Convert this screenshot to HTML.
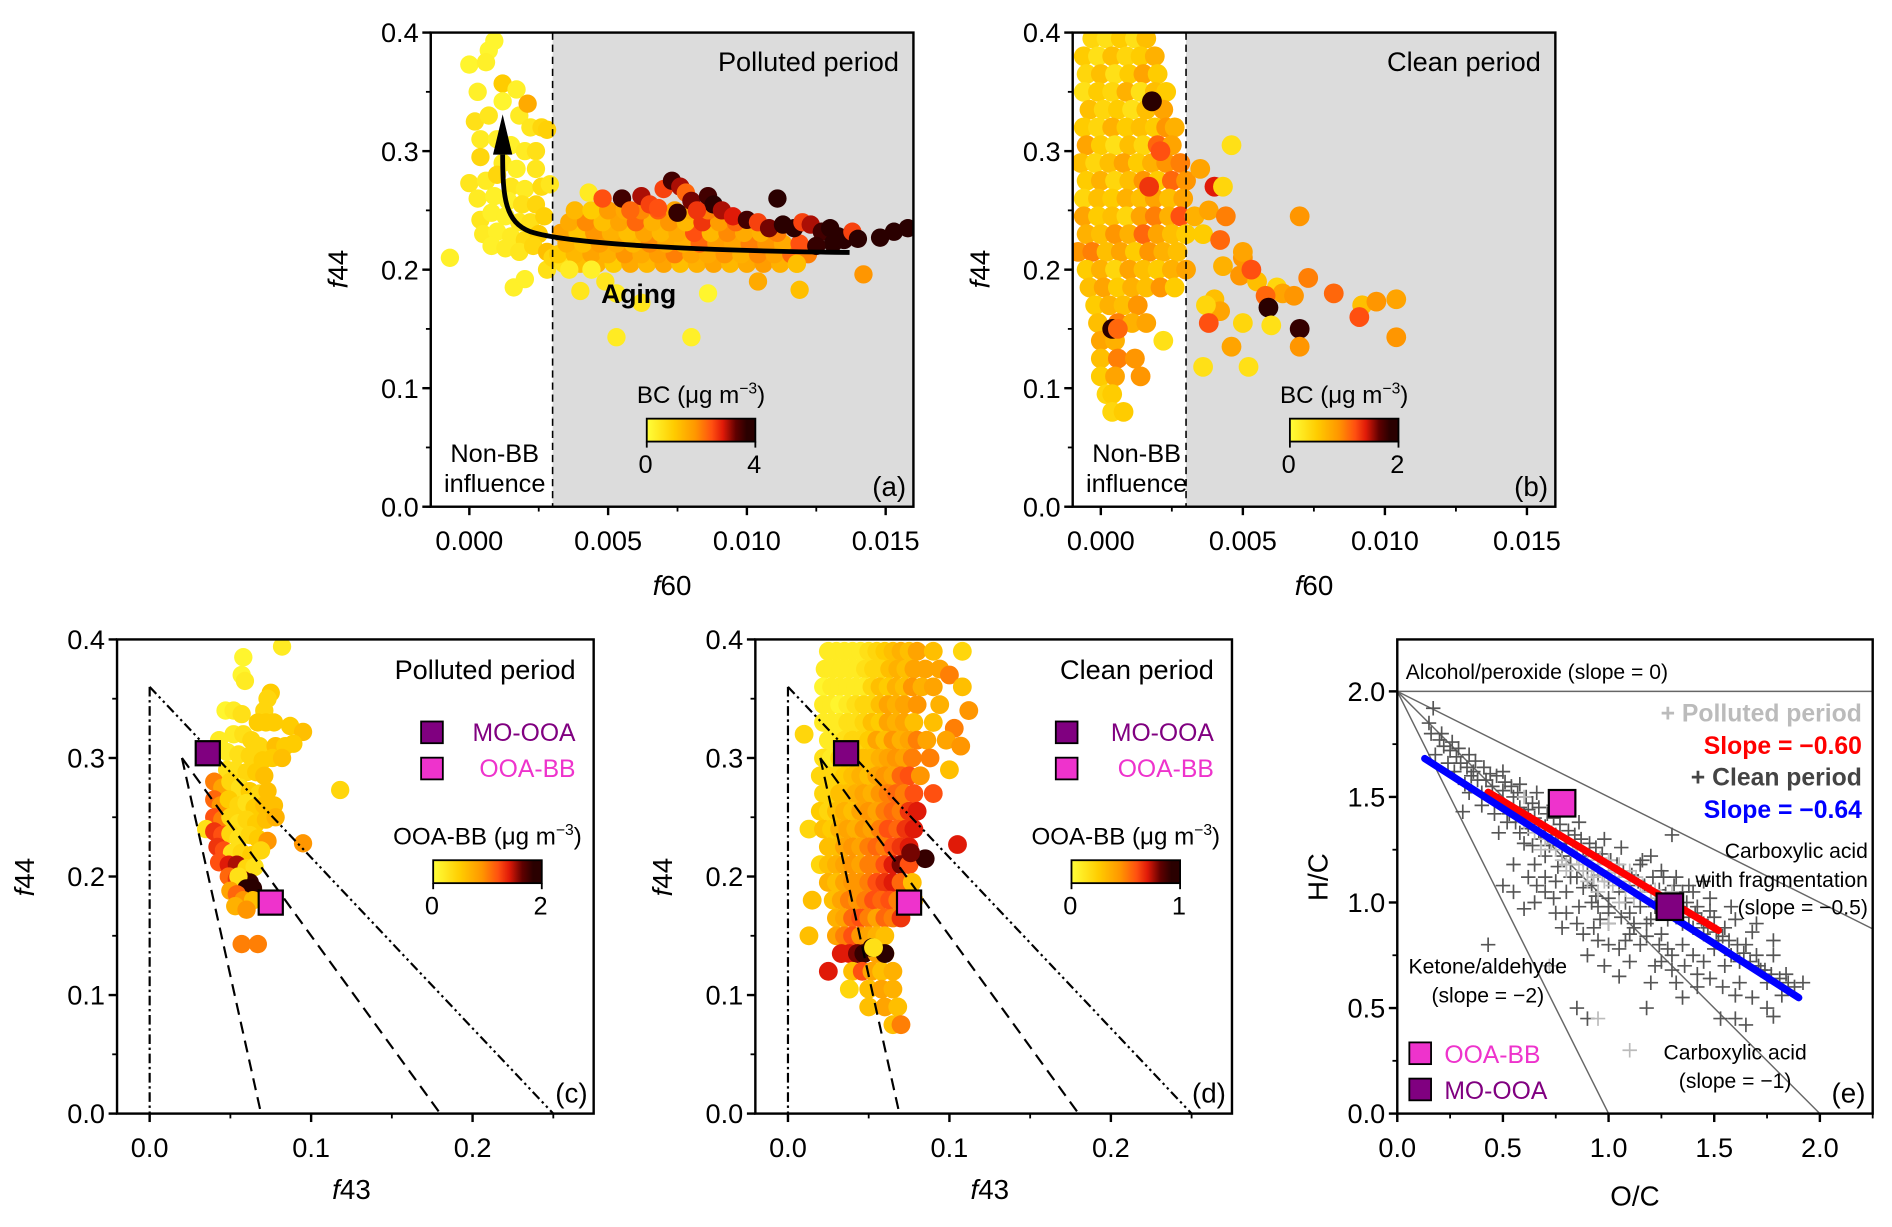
<!DOCTYPE html>
<html><head><meta charset="utf-8">
<style>
html,body{margin:0;padding:0;background:#fff;}
svg{display:block;font-family:"Liberation Sans",Arial,sans-serif;}
</style></head>
<body>
<svg id="fig" xmlns="http://www.w3.org/2000/svg" width="1892" height="1227" viewBox="0 0 1568 1017" preserveAspectRatio="none">
<defs>
<linearGradient id="cmap" x1="0" x2="1" y1="0" y2="0">
<stop offset="0" stop-color="#ffff3a"/><stop offset="0.25" stop-color="#ffcc00"/><stop offset="0.45" stop-color="#ff9600"/><stop offset="0.6" stop-color="#ff5010"/><stop offset="0.7" stop-color="#e01a08"/><stop offset="0.82" stop-color="#600000"/><stop offset="0.92" stop-color="#2a0000"/><stop offset="1" stop-color="#2a0000"/>
</linearGradient>
</defs>
</svg>
<script>
// ---------- DATA ----------
// Panel (a): [f60, f44, BC]
const aPoints = [
[-0.0007,0.21,0.3],[0.0000,0.373,0.2],[0.0003,0.35,0.3],[0.0007,0.385,0.2],[0.0009,0.393,0.2],[0.0006,0.375,0.3],[0.0012,0.357,1.0],[0.0017,0.352,0.3],[0.0012,0.342,0.2],[0.0002,0.325,0.6],[0.0007,0.33,0.5],[0.0018,0.33,0.4],[0.0021,0.34,1.5],[0.0022,0.32,0.5],[0.0026,0.32,0.8],[0.0028,0.318,0.9],[0.0004,0.31,0.4],[0.0010,0.31,0.3],[0.0015,0.305,0.3],[0.0020,0.30,0.4],[0.0024,0.30,0.6],[0.0004,0.295,0.8],[0.0012,0.29,0.4],[0.0017,0.285,0.3],[0.0024,0.285,0.5],[0.0000,0.273,0.5],[0.0006,0.275,0.4],[0.0010,0.28,0.8],[0.0015,0.27,0.5],[0.0020,0.268,0.4],[0.0026,0.27,0.7],[0.0029,0.272,0.5],[0.0003,0.26,0.4],[0.0009,0.262,0.3],[0.0014,0.258,0.3],[0.0019,0.255,0.6],[0.0024,0.255,0.8],[0.0004,0.242,0.5],[0.0008,0.248,0.3],[0.0013,0.245,0.3],[0.0018,0.24,0.5],[0.0022,0.24,0.6],[0.0027,0.245,0.9],[0.0005,0.23,0.4],[0.0010,0.232,0.3],[0.0015,0.228,0.4],[0.0020,0.225,0.7],[0.0025,0.23,1.0],[0.0008,0.22,0.3],[0.0013,0.218,0.4],[0.0018,0.215,0.5],[0.0023,0.22,0.8],[0.0028,0.215,1.2],[0.0016,0.185,0.3],[0.0020,0.192,0.3],[0.0028,0.20,0.6],[0.0030,0.21,0.8],
[0.0034,0.205,0.6],[0.0040,0.205,1.2],[0.0046,0.205,1.4],[0.0052,0.205,1.0],[0.0058,0.205,1.5],[0.0064,0.205,1.3],[0.0070,0.205,1.6],[0.0076,0.205,1.2],[0.0082,0.205,1.4],[0.0088,0.205,1.6],[0.0094,0.205,1.3],[0.0100,0.205,1.5],[0.0106,0.205,1.7],[0.0112,0.205,1.4],[0.0118,0.205,1.0],
[0.0032,0.213,1.0],[0.0038,0.213,1.3],[0.0044,0.213,1.6],[0.0050,0.213,1.4],[0.0056,0.213,1.8],[0.0062,0.213,1.5],[0.0068,0.213,1.7],[0.0074,0.213,2.0],[0.0080,0.213,1.6],[0.0086,0.213,1.5],[0.0092,0.213,1.8],[0.0098,0.213,1.4],[0.0104,0.213,1.9],[0.0110,0.213,1.6],[0.0116,0.213,2.2],[0.0122,0.213,2.0],
[0.0035,0.222,1.4],[0.0041,0.222,1.2],[0.0047,0.222,1.7],[0.0053,0.222,1.5],[0.0059,0.222,1.3],[0.0065,0.222,1.9],[0.0071,0.222,1.5],[0.0077,0.222,1.4],[0.0083,0.222,2.2],[0.0089,0.222,1.7],[0.0095,0.222,1.6],[0.0101,0.222,2.0],[0.0107,0.222,1.8],[0.0113,0.222,1.5],[0.0119,0.222,2.4],
[0.0033,0.231,1.6],[0.0039,0.231,1.1],[0.0045,0.231,1.8],[0.0051,0.231,1.4],[0.0057,0.231,1.2],[0.0063,0.231,1.6],[0.0069,0.231,1.3],[0.0075,0.231,1.5],[0.0081,0.231,2.4],[0.0087,0.231,1.3],[0.0093,0.231,1.9],[0.0099,0.231,1.5],[0.0105,0.231,1.4],[0.0111,0.231,2.0],
[0.0036,0.240,1.5],[0.0042,0.240,1.9],[0.0048,0.240,1.2],[0.0054,0.240,1.6],[0.0060,0.240,2.2],[0.0066,0.240,1.4],[0.0072,0.240,1.8],[0.0078,0.240,1.3],[0.0084,0.240,2.6],[0.0090,0.240,1.7],[0.0096,0.240,2.2],
[0.0038,0.250,1.3],[0.0044,0.250,1.0],[0.0050,0.250,1.7],[0.0056,0.250,1.5],[0.0062,0.250,1.9],[0.0068,0.250,2.3],[0.0074,0.250,1.6],[0.0080,0.250,1.5],[0.0086,0.250,2.0],
[0.0055,0.26,3.5],[0.0062,0.262,3.0],[0.0065,0.255,2.5],[0.0070,0.268,2.5],[0.0073,0.275,3.5],[0.0076,0.27,3.0],[0.0078,0.265,2.2],[0.0080,0.258,3.2],[0.0086,0.262,3.5],[0.0088,0.255,3.8],[0.0091,0.25,3.0],[0.0082,0.25,2.6],[0.0075,0.248,3.6],[0.0068,0.252,2.4],[0.0095,0.245,2.8],[0.0100,0.242,3.5],[0.0104,0.24,2.5],[0.0111,0.26,3.8],[0.0108,0.235,3.2],[0.0043,0.265,0.4],[0.0048,0.26,2.4],[0.0058,0.25,2.2],
[0.0113,0.238,3.8],[0.0117,0.235,3.9],[0.0120,0.24,2.5],[0.0123,0.238,3.0],[0.0127,0.232,3.5],[0.0130,0.235,4.0],[0.0133,0.228,3.8],[0.0135,0.225,4.0],[0.0138,0.232,2.5],[0.0140,0.226,3.9],[0.0148,0.227,4.0],[0.0153,0.232,4.0],[0.0158,0.235,4.0],[0.0131,0.222,4.0],[0.0125,0.22,3.6],[0.0142,0.196,1.8],[0.0119,0.183,1.2],[0.0104,0.19,1.5],[0.0118,0.205,1.2],
[0.0040,0.182,0.5],[0.0049,0.19,0.5],[0.0053,0.18,0.4],[0.0062,0.172,0.5],[0.0086,0.18,0.2],[0.0053,0.143,0.4],[0.0080,0.143,0.3],[0.0044,0.2,0.3],[0.0036,0.2,0.4]
];
// Panel (b): [f60, f44, BC]
const bPoints = [
[-0.0003,0.395,0.4],[0.0002,0.395,0.3],[0.0007,0.395,0.5],[0.0012,0.395,0.3],[0.0016,0.395,0.6],
[-0.0006,0.38,0.5],[-0.0001,0.38,0.3],[0.0004,0.38,0.6],[0.0009,0.38,0.4],[0.0014,0.38,0.5],[0.0019,0.38,0.7],
[-0.0005,0.365,0.4],[0.0000,0.365,0.6],[0.0005,0.365,0.3],[0.0010,0.365,0.5],[0.0015,0.365,0.8],[0.0020,0.365,0.5],
[-0.0006,0.35,0.3],[-0.0001,0.35,0.5],[0.0004,0.35,0.4],[0.0009,0.35,0.7],[0.0014,0.35,0.3],[0.0019,0.35,0.6],[0.0023,0.35,0.5],
[-0.0004,0.335,0.6],[0.0001,0.335,0.4],[0.0006,0.335,0.5],[0.0011,0.335,0.3],[0.0016,0.335,0.6],[0.0022,0.335,0.8],
[-0.0006,0.32,0.5],[-0.0001,0.32,0.4],[0.0004,0.32,0.7],[0.0009,0.32,0.5],[0.0014,0.32,0.6],[0.0019,0.32,0.5],[0.0023,0.32,0.9],[0.0026,0.32,0.7],
[-0.0005,0.305,0.8],[0.0000,0.305,0.5],[0.0005,0.305,0.3],[0.0010,0.305,0.6],[0.0015,0.305,0.4],[0.0020,0.305,1.1],[0.0025,0.305,0.8],
[-0.0007,0.29,0.6],[-0.0002,0.29,0.4],[0.0003,0.29,0.6],[0.0008,0.29,0.8],[0.0013,0.29,0.5],[0.0018,0.29,0.7],[0.0023,0.29,0.9],[0.0028,0.29,1.0],
[-0.0005,0.275,0.5],[0.0000,0.275,0.7],[0.0005,0.275,0.4],[0.0010,0.275,0.6],[0.0015,0.275,0.9],[0.0020,0.275,0.5],[0.0025,0.275,1.1],[0.0030,0.275,0.9],
[-0.0006,0.26,0.4],[-0.0001,0.26,0.6],[0.0004,0.26,0.5],[0.0009,0.26,0.7],[0.0014,0.26,0.6],[0.0019,0.26,0.8],[0.0024,0.26,0.6],[0.0029,0.26,0.8],
[-0.0006,0.245,0.8],[-0.0001,0.245,0.5],[0.0004,0.245,0.6],[0.0009,0.245,0.4],[0.0014,0.245,0.8],[0.0019,0.245,1.0],[0.0024,0.245,0.7],[0.0028,0.245,1.2],[0.0033,0.245,0.7],
[-0.0005,0.23,0.7],[0.0000,0.23,0.6],[0.0005,0.23,0.9],[0.0010,0.23,0.7],[0.0015,0.23,1.1],[0.0020,0.23,0.8],[0.0025,0.23,0.6],[0.0030,0.23,0.5],
[-0.0008,0.215,0.9],[-0.0003,0.215,1.0],[0.0002,0.215,0.6],[0.0007,0.215,0.8],[0.0012,0.215,0.5],[0.0017,0.215,0.9],[0.0022,0.215,0.7],[0.0027,0.215,0.6],
[-0.0005,0.20,0.5],[0.0000,0.20,0.7],[0.0005,0.20,0.4],[0.0010,0.20,0.8],[0.0015,0.20,0.6],[0.0020,0.20,0.5],[0.0025,0.20,0.7],[0.0030,0.20,0.8],
[-0.0004,0.185,0.6],[0.0001,0.185,0.8],[0.0006,0.185,0.5],[0.0011,0.185,0.7],[0.0016,0.185,0.6],[0.0021,0.185,0.9],[0.0026,0.185,0.5],
[-0.0002,0.17,0.5],[0.0003,0.17,0.7],[0.0008,0.17,0.6],[0.0013,0.17,0.9],
[-0.0001,0.155,0.6],[0.0006,0.155,1.0],[0.0011,0.155,0.7],[0.0016,0.155,0.8],
[0.0000,0.14,0.8],[0.0005,0.14,0.7],[0.0022,0.14,0.3],
[0.0000,0.125,0.6],[0.0006,0.125,1.0],[0.0012,0.125,0.9],
[0.0000,0.11,0.5],[0.0005,0.11,0.8],[0.0014,0.11,0.9],
[0.0002,0.095,0.4],[0.0004,0.095,0.5],[0.0004,0.08,0.4],[0.0008,0.08,0.5],
[0.0018,0.342,2.0],[0.0004,0.15,2.0],[0.0006,0.15,1.1],[0.0021,0.3,1.2],[0.0017,0.27,1.3],
[0.0035,0.285,0.8],[0.0046,0.305,0.3],[0.0040,0.27,1.4],[0.0043,0.27,0.4],[0.0038,0.25,0.8],[0.0044,0.245,1.0],[0.0036,0.23,0.5],[0.0042,0.225,1.1],[0.0050,0.21,0.9],[0.0050,0.215,0.8],[0.0043,0.203,0.7],[0.0049,0.195,0.9],[0.0055,0.19,0.6],[0.0053,0.2,1.2],[0.0062,0.185,0.4],[0.0064,0.18,0.8],[0.0058,0.178,1.1],[0.0068,0.178,0.9],[0.0073,0.193,1.0],[0.0082,0.18,1.1],[0.0070,0.245,0.9],[0.0040,0.175,0.6],[0.0042,0.165,0.8],[0.0037,0.17,0.4],[0.0059,0.168,2.0],[0.0070,0.15,1.8],[0.0070,0.135,0.9],[0.0038,0.155,1.2],[0.0046,0.135,0.8],[0.0050,0.155,0.4],[0.0060,0.153,0.3],[0.0036,0.118,0.3],[0.0052,0.118,0.3],[0.0092,0.17,0.6],[0.0091,0.16,1.2],[0.0097,0.173,0.9],[0.0104,0.175,0.8],[0.0104,0.143,0.9]
];
// Panel (c): [f43, f44, OOA-BB]
const cPoints = [
[0.082,0.394,0.2],[0.058,0.385,0.1],[0.057,0.37,0.1],[0.059,0.365,0.2],[0.075,0.355,0.5],[0.073,0.35,0.4],[0.071,0.34,0.4],[0.047,0.34,0.1],[0.052,0.34,0.2],[0.057,0.337,0.3],[0.067,0.33,0.5],[0.072,0.33,0.5],[0.077,0.33,0.5],[0.087,0.327,0.5],[0.095,0.322,0.6],[0.052,0.32,0.2],[0.058,0.32,0.3],[0.063,0.315,0.4],[0.068,0.31,0.4],[0.078,0.31,0.6],[0.084,0.31,0.5],[0.089,0.312,0.5],[0.043,0.315,0.2],[0.048,0.305,0.2],[0.055,0.303,0.3],[0.062,0.302,0.4],[0.070,0.298,0.5],[0.076,0.30,0.5],[0.082,0.30,0.6],[0.048,0.29,0.3],[0.053,0.29,0.3],[0.060,0.288,0.4],[0.066,0.288,0.5],[0.071,0.285,0.6],[0.118,0.273,0.4],[0.040,0.28,1.0],[0.045,0.275,0.8],[0.050,0.28,0.4],[0.056,0.275,0.3],[0.062,0.272,0.5],[0.068,0.27,0.4],[0.073,0.272,0.6],[0.040,0.265,1.1],[0.044,0.26,0.9],[0.049,0.265,0.5],[0.055,0.26,0.4],[0.060,0.262,0.3],[0.065,0.258,0.5],[0.071,0.26,0.6],[0.077,0.26,0.6],[0.040,0.25,1.2],[0.045,0.248,1.0],[0.050,0.25,0.4],[0.055,0.245,0.3],[0.060,0.248,0.4],[0.066,0.245,0.5],[0.072,0.248,0.6],[0.078,0.25,0.7],[0.035,0.24,0.3],[0.040,0.238,1.3],[0.045,0.235,1.2],[0.050,0.236,0.4],[0.055,0.232,0.3],[0.062,0.235,0.4],[0.067,0.232,0.5],[0.073,0.23,0.9],[0.095,0.228,0.9],[0.042,0.225,1.3],[0.046,0.222,1.2],[0.051,0.22,0.3],[0.057,0.22,0.4],[0.063,0.218,0.5],[0.069,0.222,0.4],[0.043,0.212,1.2],[0.049,0.21,1.4],[0.054,0.21,1.5],[0.060,0.207,0.4],[0.065,0.208,0.3],[0.049,0.20,1.1],[0.054,0.198,1.3],[0.058,0.197,1.6],[0.062,0.195,1.8],[0.055,0.20,0.3],[0.060,0.19,2.0],[0.064,0.19,1.9],[0.050,0.188,0.8],[0.054,0.185,1.1],[0.058,0.18,0.9],[0.064,0.18,0.6],[0.053,0.175,0.7],[0.060,0.172,0.9],[0.057,0.143,1.0],[0.067,0.143,1.0]
];
// Panel (d): [f43, f44, OOA-BB]
const dPoints = [
[0.025,0.39,0.1],[0.03,0.39,0.1],[0.035,0.39,0.1],[0.04,0.39,0.1],[0.045,0.39,0.1],[0.05,0.39,0.15],[0.055,0.39,0.2],[0.06,0.39,0.25],[0.065,0.39,0.3],[0.07,0.39,0.35],[0.075,0.39,0.3],[0.08,0.39,0.4],[0.09,0.39,0.3],[0.108,0.39,0.2],
[0.023,0.375,0.1],[0.028,0.375,0.1],[0.033,0.375,0.1],[0.038,0.375,0.1],[0.043,0.375,0.1],[0.048,0.375,0.15],[0.053,0.375,0.2],[0.058,0.375,0.2],[0.063,0.375,0.3],[0.068,0.375,0.35],[0.073,0.375,0.3],[0.078,0.375,0.4],[0.085,0.375,0.4],[0.094,0.375,0.4],[0.1,0.37,0.5],
[0.022,0.36,0.05],[0.027,0.36,0.1],[0.032,0.36,0.1],[0.037,0.36,0.1],[0.042,0.36,0.1],[0.047,0.36,0.1],[0.052,0.36,0.2],[0.057,0.36,0.3],[0.062,0.36,0.25],[0.067,0.36,0.35],[0.072,0.36,0.3],[0.077,0.36,0.45],[0.083,0.36,0.35],[0.09,0.36,0.4],[0.108,0.36,0.3],
[0.022,0.345,0.1],[0.027,0.345,0.1],[0.032,0.345,0.05],[0.037,0.345,0.1],[0.042,0.345,0.15],[0.047,0.345,0.2],[0.052,0.345,0.2],[0.057,0.345,0.3],[0.062,0.345,0.4],[0.067,0.345,0.35],[0.072,0.345,0.4],[0.08,0.345,0.45],[0.094,0.345,0.35],[0.112,0.34,0.45],
[0.022,0.33,0.1],[0.027,0.33,0.1],[0.032,0.33,0.1],[0.037,0.33,0.15],[0.042,0.33,0.15],[0.047,0.33,0.2],[0.052,0.33,0.3],[0.057,0.33,0.25],[0.062,0.33,0.4],[0.067,0.33,0.35],[0.072,0.33,0.4],[0.078,0.33,0.3],[0.09,0.33,0.3],[0.103,0.325,0.5],
[0.010,0.32,0.2],[0.025,0.315,0.1],[0.03,0.315,0.1],[0.035,0.315,0.15],[0.04,0.315,0.2],[0.045,0.315,0.2],[0.05,0.315,0.25],[0.055,0.315,0.4],[0.06,0.315,0.3],[0.065,0.315,0.45],[0.07,0.315,0.35],[0.075,0.315,0.4],[0.08,0.315,0.5],[0.086,0.315,0.4],[0.098,0.315,0.4],[0.107,0.31,0.45],
[0.022,0.30,0.15],[0.027,0.30,0.1],[0.032,0.30,0.2],[0.037,0.30,0.2],[0.042,0.30,0.25],[0.047,0.30,0.3],[0.052,0.30,0.3],[0.057,0.30,0.35],[0.062,0.30,0.4],[0.067,0.30,0.45],[0.072,0.30,0.4],[0.077,0.30,0.5],[0.088,0.30,0.5],
[0.02,0.285,0.2],[0.025,0.285,0.2],[0.03,0.285,0.2],[0.035,0.285,0.25],[0.04,0.285,0.3],[0.045,0.285,0.35],[0.05,0.285,0.3],[0.055,0.285,0.4],[0.06,0.285,0.45],[0.065,0.285,0.4],[0.07,0.285,0.55],[0.075,0.285,0.6],[0.082,0.285,0.45],[0.1,0.29,0.3],
[0.022,0.27,0.2],[0.027,0.27,0.2],[0.032,0.27,0.3],[0.037,0.27,0.3],[0.042,0.27,0.35],[0.047,0.27,0.4],[0.052,0.27,0.35],[0.057,0.27,0.45],[0.062,0.27,0.5],[0.067,0.27,0.55],[0.072,0.27,0.5],[0.078,0.27,0.6],[0.09,0.27,0.6],
[0.02,0.255,0.25],[0.025,0.255,0.2],[0.03,0.255,0.3],[0.035,0.255,0.35],[0.04,0.255,0.3],[0.045,0.255,0.4],[0.05,0.255,0.45],[0.055,0.255,0.4],[0.06,0.255,0.5],[0.065,0.255,0.55],[0.07,0.255,0.5],[0.075,0.255,0.65],[0.08,0.255,0.7],
[0.013,0.24,0.2],[0.022,0.24,0.3],[0.027,0.24,0.25],[0.032,0.24,0.35],[0.037,0.24,0.4],[0.042,0.24,0.35],[0.047,0.24,0.45],[0.052,0.24,0.4],[0.057,0.24,0.5],[0.062,0.24,0.6],[0.068,0.24,0.55],[0.073,0.24,0.65],[0.078,0.24,0.7],
[0.025,0.225,0.3],[0.03,0.225,0.3],[0.035,0.225,0.4],[0.04,0.225,0.45],[0.045,0.225,0.4],[0.05,0.225,0.5],[0.055,0.225,0.55],[0.06,0.225,0.5],[0.065,0.225,0.6],[0.07,0.225,0.65],[0.075,0.225,0.7],[0.105,0.227,0.7],
[0.02,0.21,0.2],[0.025,0.21,0.3],[0.03,0.21,0.35],[0.035,0.21,0.4],[0.04,0.21,0.45],[0.045,0.21,0.4],[0.05,0.21,0.5],[0.055,0.21,0.5],[0.06,0.21,0.6],[0.065,0.21,0.7],[0.07,0.21,0.8],[0.075,0.21,0.6],
[0.025,0.195,0.35],[0.03,0.195,0.3],[0.035,0.195,0.4],[0.04,0.195,0.45],[0.045,0.195,0.45],[0.05,0.195,0.5],[0.055,0.195,0.6],[0.06,0.195,0.65],[0.065,0.195,0.7],[0.07,0.195,0.55],[0.077,0.195,0.3],
[0.015,0.18,0.3],[0.028,0.18,0.3],[0.033,0.18,0.4],[0.038,0.18,0.5],[0.043,0.18,0.45],[0.048,0.18,0.5],[0.053,0.18,0.6],[0.058,0.18,0.55],[0.063,0.18,0.6],[0.068,0.18,0.5],[0.078,0.18,0.3],
[0.03,0.165,0.35],[0.035,0.165,0.4],[0.04,0.165,0.55],[0.045,0.165,0.6],[0.05,0.165,0.5],[0.055,0.165,0.4],[0.06,0.165,0.55],[0.065,0.165,0.5],[0.07,0.165,0.65],
[0.013,0.15,0.3],[0.03,0.15,0.4],[0.035,0.15,0.5],[0.04,0.15,0.6],[0.045,0.15,0.45],[0.05,0.15,0.4],[0.055,0.15,0.35],[0.06,0.15,0.3],
[0.033,0.135,0.7],[0.038,0.135,0.7],[0.043,0.135,0.8],[0.047,0.135,0.9],[0.055,0.135,0.4],[0.06,0.135,0.3],
[0.025,0.12,0.7],[0.04,0.12,0.3],[0.046,0.12,0.6],[0.052,0.12,0.4],[0.058,0.12,0.3],[0.065,0.12,0.35],
[0.038,0.105,0.2],[0.05,0.105,0.3],[0.058,0.105,0.4],[0.065,0.105,0.35],
[0.05,0.09,0.3],[0.06,0.09,0.4],[0.068,0.09,0.3],[0.065,0.075,0.3],[0.07,0.075,0.5],
[0.085,0.215,0.9],[0.076,0.22,0.8],[0.052,0.14,0.95],[0.06,0.135,1.0],[0.053,0.14,0.15]
];
// Factor profiles: [f43, f44] and [O/C, H/C]
const moOOA_ff = [0.036, 0.304];
const ooaBB_ff = [0.075, 0.178];
const moOOA_vk = [1.29, 0.98];
const ooaBB_vk = [0.78, 1.47];
// Panel (e): clean-period points [O/C, H/C]
const eClean = [
[0.17,1.92],[0.15,1.85],[0.16,1.8],[0.2,1.77],[0.22,1.74],[0.25,1.72],[0.18,1.7],[0.28,1.69],[0.3,1.66],[0.33,1.64],[0.27,1.62],[0.36,1.62],[0.38,1.58],[0.32,1.56],[0.42,1.58],[0.45,1.55],[0.4,1.52],[0.5,1.53],[0.48,1.48],[0.55,1.5],[0.31,1.43],[0.52,1.45],[0.58,1.45],[0.6,1.42],[0.56,1.38],[0.65,1.4],[0.62,1.35],[0.7,1.36],[0.48,1.33],[0.68,1.3],[0.75,1.32],[0.72,1.27],[0.8,1.28],[0.6,1.28],[0.78,1.22],[0.85,1.25],[0.55,1.18],[0.65,1.18],[0.82,1.18],[0.88,1.2],[0.9,1.15],[0.75,1.1],[0.85,1.12],[0.95,1.13],[0.7,1.05],[0.8,1.05],[0.92,1.08],[1.0,1.1],[0.65,1.0],[0.6,0.97],[0.92,1.0],[1.0,1.02],[1.05,1.05],[1.1,1.08],[1.15,1.18],[1.2,1.22],[1.3,1.32],[1.25,1.15],[1.32,1.12],[1.35,1.05],[1.3,1.0],[1.4,1.05],[1.42,0.98],[1.38,0.93],[1.48,0.96],[1.45,0.9],[1.5,0.93],[1.55,0.88],[1.6,0.92],[1.52,0.82],[1.65,0.8],[1.7,0.75],[1.78,0.75],[1.62,0.72],[1.72,0.68],[1.55,0.7],[1.85,0.62],[1.92,0.62],[1.75,0.62],[1.68,0.55],[1.75,0.5],[1.78,0.46],[1.6,0.45],[1.53,0.45],[1.65,0.42],[1.35,0.55],[1.2,0.62],[1.1,0.72],[1.05,0.65],[0.98,0.7],[0.9,0.75],[0.95,0.82],[1.0,0.9],[1.1,0.85],[1.05,0.78],[1.15,0.8],[1.2,0.92],[1.25,0.85],[1.28,0.78],[1.35,0.8],[1.4,0.75],[1.45,0.72],[1.3,0.68],[1.25,0.72],[1.1,0.95],[1.15,0.98],[0.88,0.85],[0.85,0.9],[0.78,0.88],[0.75,0.95],[0.55,1.05],[0.5,1.08],[0.43,0.8],[0.9,0.45],[0.85,0.5],[1.18,0.5],[1.45,0.85],[1.7,0.9],[1.0,0.95],[0.95,0.98],[1.2,1.05],[1.45,1.1],
[0.24,1.66],[0.35,1.6],[0.44,1.5],[0.53,1.42],[0.62,1.44],[0.67,1.34],[0.73,1.3],[0.82,1.22],[0.9,1.22],[1.08,1.0],[1.18,0.9],[1.22,0.98],[1.28,0.92],[1.35,0.9],[1.4,0.88],[1.5,0.78],[1.58,0.75],[1.62,0.62],[1.82,0.56],[1.12,0.88],[1.0,0.8],[0.93,0.88],[0.8,0.95],[0.7,1.12],[0.62,1.12],
[0.21,1.8],[0.26,1.76],[0.29,1.73],[0.34,1.7],[0.37,1.67],[0.41,1.64],[0.44,1.61],[0.47,1.6],[0.51,1.57],[0.54,1.55],[0.57,1.52],[0.61,1.5],[0.64,1.47],[0.67,1.45],[0.71,1.42],[0.74,1.4],[0.77,1.37],[0.81,1.34],[0.84,1.32],[0.87,1.3],[0.91,1.28],[0.94,1.26],[0.97,1.23],[1.01,1.2],[1.04,1.18],[1.07,1.15],[1.11,1.13],[1.14,1.1],[1.17,1.08],[1.21,1.12],[1.24,1.06],[1.27,1.04],[1.31,1.08],[1.34,0.98],[1.37,1.0],[1.41,0.95],[1.44,0.92],[1.47,0.88],[1.51,0.86],[1.54,0.84],[1.57,0.82],[1.61,0.8],[1.64,0.76],[1.67,0.72],[1.71,0.7],[1.74,0.68],[1.77,0.66],[1.81,0.64],[1.84,0.66],[1.88,0.6],
[0.34,1.52],[0.4,1.46],[0.46,1.42],[0.52,1.38],[0.58,1.33],[0.64,1.27],[0.7,1.22],[0.76,1.17],[0.82,1.12],[0.88,1.07],[0.94,1.03],[1.0,0.98],[1.06,0.93],[1.12,0.9],[1.18,0.84],[1.24,0.8],[1.3,0.75],[1.36,0.7],[1.42,0.66],[1.48,0.64],[1.54,0.6],[1.6,0.56],
[0.5,1.62],[0.58,1.56],[0.66,1.52],[0.74,1.46],[0.86,1.38],[0.98,1.3],[1.06,1.26],[1.16,1.2],[1.26,1.12],[1.38,1.08],[1.48,1.02],[1.58,0.98],[1.68,0.86],[1.78,0.82],[1.22,0.7],[1.32,0.62],[1.42,0.6],[1.08,0.82],[0.96,0.92],[0.86,0.98],[0.74,1.02],[0.66,1.08]
];
// Panel (e): polluted-period points [O/C, H/C]
const ePolluted = [
[0.9,1.2],[0.95,1.18],[1.0,1.15],[1.05,1.12],[1.1,1.1],[1.0,1.2],[0.85,1.22],[0.9,1.1],[0.8,1.15],[1.15,1.05],[1.2,1.02],[1.25,1.0],[1.1,1.15],[0.75,1.25],[0.7,1.3],[0.65,1.33],[0.6,1.38],[0.95,1.05],[1.05,1.18],[1.3,1.05],[0.68,1.25],[0.72,0.7],[1.1,0.3],[0.95,0.45],[1.0,0.9],[0.6,1.5],[0.8,1.18],[1.05,1.0],[0.92,1.15],[0.98,1.1],[0.88,1.15],[1.02,1.08],[1.12,1.02],[0.78,1.2],[0.97,1.13],
[0.86,1.18],[0.93,1.12],[1.03,1.14],[1.08,1.06],[1.16,1.08],[0.83,1.25],[0.73,1.28],[0.96,1.21],[1.13,1.12],[1.22,1.06]
];
// Fit lines [O/C start, O/C end, slope, intercept]
const fitPolluted = [0.43, 1.52, -0.60, 1.78];
const fitClean = [0.13, 1.90, -0.64, 1.765];

// Tick labels
const fTicksX = ["0.000","0.005","0.010","0.015"];
const fTickVals = [0, 0.005, 0.010, 0.015];
const f44Ticks = [0.0, 0.1, 0.2, 0.3, 0.4];
const f43Ticks = [0.0, 0.1, 0.2];
const vkTicks = [0.0, 0.5, 1.0, 1.5, 2.0];

// ---------- DRAWING ----------
const NS = "http://www.w3.org/2000/svg";
const svg = document.getElementById('fig');

function el(tag, attrs, parent, name, inter) {
  const e = document.createElementNS(NS, tag);
  for (const k in attrs) e.setAttribute(k, attrs[k]);
  
  
  (parent || svg).appendChild(e);
  return e;
}
function text(x, y, str, size, anchor, parent, name, extra) {
  const a = Object.assign({x: x, y: y, 'font-size': size, 'text-anchor': anchor || 'middle', fill: '#000'}, extra || {});
  const t = el('text', a, parent, name, false);
  t.textContent = str;
  return t;
}
const stops = [[0,[255,255,58]],[0.25,[255,204,0]],[0.45,[255,150,0]],[0.6,[255,80,16]],[0.7,[224,26,8]],[0.82,[96,0,0]],[0.92,[42,0,0]],[1,[42,0,0]]];
function cmap(t) {
  t = Math.max(0, Math.min(1, t));
  for (let i = 1; i < stops.length; i++) {
    if (t <= stops[i][0]) {
      const a = stops[i-1], b = stops[i], f = (t - a[0]) / (b[0] - a[0]);
      const c = a[1].map((v, j) => Math.round(v + (b[1][j] - v) * f));
      return 'rgb(' + c.join(',') + ')';
    }
  }
  return 'rgb(42,0,0)';
}
function scale(d0, d1, p0, p1) { return v => p0 + (v - d0) / (d1 - d0) * (p1 - p0); }

function frame(P, name) {
  el('rect', {x: P.px0, y: P.py0, width: P.px1 - P.px0, height: P.py1 - P.py0, fill: 'none', stroke: '#000', 'stroke-width': 2}, P.g, name + '-frame', false);
}
function xTicks(P, vals, labels, minorStep, name) {
  const g = el('g', {}, P.g, name + '-x-axis', false);
  for (let i = 0; i < vals.length; i++) {
    const x = P.sx(vals[i]);
    el('line', {x1: x, x2: x, y1: P.py1, y2: P.py1 + 7, stroke: '#000', 'stroke-width': 2}, g, 'x-tick', false);
    text(x, P.py1 + 36, labels[i], 22.5, 'middle', g, 'x-tick-label');
  }
  for (let v = P.x0 - (P.x0 % minorStep); v <= P.x1 + 1e-12; v += minorStep) {
    const x = P.sx(v);
    if (x < P.px0 - 0.5 || x > P.px1 + 0.5) continue;
    el('line', {x1: x, x2: x, y1: P.py1, y2: P.py1 + 4, stroke: '#000', 'stroke-width': 1.5}, g, 'x-minor-tick', false);
  }
}
function yTicks(P, vals, labels, minorStep, name) {
  const g = el('g', {}, P.g, name + '-y-axis', false);
  for (let i = 0; i < vals.length; i++) {
    const y = P.sy(vals[i]);
    el('line', {x1: P.px0 - 7, x2: P.px0, y1: y, y2: y, stroke: '#000', 'stroke-width': 2}, g, 'y-tick', false);
    text(P.px0 - 10, y + 8, labels[i], 22.5, 'end', g, 'y-tick-label');
  }
  for (let v = 0; v <= P.y1 + 1e-12; v += minorStep) {
    const y = P.sy(v);
    el('line', {x1: P.px0 - 4, x2: P.px0, y1: y, y2: y, stroke: '#000', 'stroke-width': 1.5}, g, 'y-minor-tick', false);
  }
}
function italicLabel(x, y, fpart, rest, rotate, parent, name) {
  const attrs = {x: x, y: y, 'font-size': 23, 'text-anchor': 'middle'};
  if (rotate) attrs.transform = 'rotate(-90 ' + x + ' ' + y + ')';
  const t = el('text', attrs, parent, name, false);
  const s1 = document.createElementNS(NS, 'tspan');
  s1.setAttribute('font-style', 'italic');
  s1.textContent = fpart;
  t.appendChild(s1);
  const s2 = document.createElementNS(NS, 'tspan');
  s2.textContent = rest;
  t.appendChild(s2);
}
function colorbar(P, bx, by, maxLabel, title, name) {
  const g = el('g', {}, P.g, name, false);
  const tt = el('text', {x: bx + 45, y: by - 13, 'font-size': 20, 'text-anchor': 'middle'}, g, 'colorbar-title', false);
  tt.appendChild(document.createTextNode(title + ' (μg m'));
  const sup = document.createElementNS(NS, 'tspan');
  sup.setAttribute('font-size', 13);
  sup.setAttribute('dy', -8);
  sup.textContent = '−3';
  tt.appendChild(sup);
  const cl = document.createElementNS(NS, 'tspan');
  cl.setAttribute('dy', 8);
  cl.textContent = ')';
  tt.appendChild(cl);
  el('rect', {x: bx, y: by, width: 90, height: 19, fill: 'url(#cmap)', stroke: '#000', 'stroke-width': 1.5}, g, 'colorbar-gradient', false);
  el('line', {x1: bx, x2: bx, y1: by + 19, y2: by + 24, stroke: '#000', 'stroke-width': 1.5}, g, 'colorbar-tick', false);
  el('line', {x1: bx + 90, x2: bx + 90, y1: by + 19, y2: by + 24, stroke: '#000', 'stroke-width': 1.5}, g, 'colorbar-tick', false);
  text(bx - 1, by + 45, '0', 21, 'middle', g, 'colorbar-min-label');
  text(bx + 89, by + 45, maxLabel, 21, 'middle', g, 'colorbar-max-label');
}
function scatter(P, pts, cmax, r, name) {
  const g = el('g', {}, P.g, name, false);
  for (const p of pts) {
    const x = P.sx(p[0]), y = P.sy(p[1]);
    if (y < P.py0 - 2) continue;
    el('circle', {cx: x, cy: y, r: r, fill: cmap(p[2] / cmax)}, g, 'data-point', false);
  }
}
function makePanel(o, name) {
  const P = Object.assign({}, o);
  P.sx = scale(o.x0, o.x1, o.px0, o.px1);
  P.sy = scale(o.y0, o.y1, o.py1, o.py0);
  P.g = el('g', {}, svg, name, false);
  const cid = 'clip-' + name;
  const cp = document.createElementNS(NS, 'clipPath');
  cp.setAttribute('id', cid);
  const cr = document.createElementNS(NS, 'rect');
  cr.setAttribute('x', o.px0); cr.setAttribute('y', o.py0);
  cr.setAttribute('width', o.px1 - o.px0); cr.setAttribute('height', o.py1 - o.py0);
  cp.appendChild(cr);
  svg.querySelector('defs').appendChild(cp);
  P.plot = el('g', {'clip-path': 'url(#' + cid + ')'}, P.g, name + '-plot-area', false);
  return P;
}

// ----- Panels (a) & (b) -----
function f60Panel(pts, px0, x0, cmax, r, title, letter, name) {
  const P = makePanel({x0: x0, x1: 0.0160, px0: px0, px1: px0 + 400, y0: 0, y1: 0.4, py0: 27, py1: 420}, name);
  const xd = P.sx(0.003);
  el('rect', {x: xd, y: P.py0, width: P.px1 - xd, height: P.py1 - P.py0, fill: '#dcdcdc'}, P.plot, 'bb-influence-region', false);
  scatter({g: P.plot, sx: P.sx, sy: P.sy, py0: P.py0}, pts, cmax, r, 'scatter-points');
  el('line', {x1: xd, x2: xd, y1: P.py0, y2: P.py1, stroke: '#000', 'stroke-width': 1.3, 'stroke-dasharray': '6,4'}, P.g, 'threshold-line', false);
  frame(P, name);
  xTicks(P, fTickVals, fTicksX, 0.0025, name);
  yTicks(P, f44Ticks, f44Ticks.map(v => v.toFixed(1)), 0.05, name);
  text(P.px1 - 12, P.py0 + 32, title, 22.5, 'end', P.g, 'period-title');
  text(P.px0 + 53, 383, 'Non-BB', 21, 'middle', P.g, 'non-bb-label');
  text(P.px0 + 53, 408, 'influence', 21, 'middle', P.g, 'non-bb-label');
  text(P.px1 - 6, 411, letter, 23, 'end', P.g, 'panel-letter');
  italicLabel((P.px0 + P.px1) / 2, 493, 'f', '60', false, P.g, 'x-axis-title');
  italicLabel(P.px0 - 69, 223, 'f', '44', true, P.g, 'y-axis-title');
  return P;
}
const PA = f60Panel(aPoints, 357, -0.00139, 4, 7.6, 'Polluted period', '(a)', 'panel-a');
colorbar(PA, 536, 347, '4', 'BC', 'colorbar-a');
(function(){
  const P = PA;
  const d = 'M' + P.sx(0.0137) + ',' + P.sy(0.2145) +
    ' C' + P.sx(0.008) + ',' + P.sy(0.216) + ' ' + P.sx(0.0035) + ',' + P.sy(0.222) + ' ' + P.sx(0.0022) + ',' + P.sy(0.232) +
    ' C' + P.sx(0.0013) + ',' + P.sy(0.24) + ' ' + P.sx(0.0012) + ',' + P.sy(0.26) + ' ' + P.sx(0.0012) + ',' + P.sy(0.297);
  el('path', {d: d, fill: 'none', stroke: '#000', 'stroke-width': 4}, P.g, 'aging-arrow-line', false);
  const tx = P.sx(0.0012), ty = P.sy(0.331), by = P.sy(0.297);
  el('polygon', {points: tx + ',' + ty + ' ' + (tx - 8) + ',' + by + ' ' + (tx + 8) + ',' + by, fill: '#000'}, P.g, 'aging-arrow-head', false);
  text(P.sx(0.0061), P.sy(0.172), 'Aging', 22, 'middle', P.g, 'aging-label', {'font-weight': 'bold'});
})();
const PB = f60Panel(bPoints, 889, -0.00099, 2, 8.2, 'Clean period', '(b)', 'panel-b');
colorbar(PB, 1069, 347, '2', 'BC', 'colorbar-b');

// ----- Panels (c) & (d) -----
function f43Panel(pts, px0, cmax, r, title, letter, name, legX) {
  const P = makePanel({x0: -0.0202, x1: 0.275, px0: px0, px1: px0 + 395, y0: 0, y1: 0.4, py0: 530, py1: 923}, name);
  scatter({g: P.plot, sx: P.sx, sy: P.sy, py0: P.py0}, pts, cmax, r, 'scatter-points');
  const L = (a, b, dash, nm) => el('line', {x1: P.sx(a[0]), y1: P.sy(a[1]), x2: P.sx(b[0]), y2: P.sy(b[1]), stroke: '#000', 'stroke-width': 1.8, 'stroke-dasharray': dash}, P.g, nm, false);
  L([0, 0.36], [0, 0], '8,3,2,3', 'triangle-left-edge');
  L([0, 0.36], [0.25, 0], '8,3,2,3,2,3', 'triangle-right-edge');
  L([0.02, 0.30], [0.069, 0], '10,6', 'dashed-guide-left');
  L([0.02, 0.30], [0.18, 0], '10,6', 'dashed-guide-right');
  const sq = (p, col, nm) => el('rect', {x: P.sx(p[0]) - 10, y: P.sy(p[1]) - 10, width: 20, height: 20, fill: col, stroke: '#000', 'stroke-width': 1.8}, P.g, nm, false);
  sq(moOOA_ff, '#800080', 'mo-ooa-marker');
  sq(ooaBB_ff, '#ee33cc', 'ooa-bb-marker');
  frame(P, name);
  xTicks(P, f43Ticks, f43Ticks.map(v => v.toFixed(1)), 0.05, name);
  yTicks(P, f44Ticks, f44Ticks.map(v => v.toFixed(1)), 0.05, name);
  text(P.px1 - 15, 563, title, 22.5, 'end', P.g, 'period-title');
  el('rect', {x: legX - 9, y: 598, width: 18, height: 18, fill: '#800080', stroke: '#000', 'stroke-width': 1.5}, P.g, 'legend-mo-ooa-swatch', false);
  el('rect', {x: legX - 9, y: 628, width: 18, height: 18, fill: '#ee33cc', stroke: '#000', 'stroke-width': 1.5}, P.g, 'legend-ooa-bb-swatch', false);
  text(P.px1 - 15, 614, 'MO-OOA', 20.5, 'end', P.g, 'legend-mo-ooa-label', {fill: '#800080'});
  text(P.px1 - 15, 644, 'OOA-BB', 20.5, 'end', P.g, 'legend-ooa-bb-label', {fill: '#ee33cc'});
  text(P.px1 - 5, 914, letter, 23, 'end', P.g, 'panel-letter');
  italicLabel(P.sx(0.125), 994, 'f', '43', false, P.g, 'x-axis-title');
  italicLabel(P.px0 - 69, 727, 'f', '44', true, P.g, 'y-axis-title');
  return P;
}
const PC = f43Panel(cPoints, 97, 2, 7.6, 'Polluted period', '(c)', 'panel-c', 358);
colorbar(PC, 359, 713, '2', 'OOA-BB', 'colorbar-c');
const PD = f43Panel(dPoints, 626, 1, 7.8, 'Clean period', '(d)', 'panel-d', 884);
colorbar(PD, 888, 713, '1', 'OOA-BB', 'colorbar-d');

// ----- Panel (e) -----
(function(){
  const P = makePanel({x0: 0, x1: 2.25, px0: 1158, px1: 1552, y0: 0, y1: 2.246, py0: 530, py1: 923}, 'panel-e');
  const g = P.plot;
  const line = (a, b, nm) => el('line', {x1: P.sx(a[0]), y1: P.sy(a[1]), x2: P.sx(b[0]), y2: P.sy(b[1]), stroke: '#666', 'stroke-width': 1.2}, g, nm, false);
  line([0, 2], [2.25, 2], 'alcohol-line');
  line([0, 2], [2.25, 0.875], 'carboxylic-frag-line');
  line([0, 2], [2, 0], 'carboxylic-line');
  line([0, 2], [1, 0], 'ketone-line');
  const cross = (p, col, nm) => {
    const x = P.sx(p[0]), y = P.sy(p[1]);
    el('path', {d: 'M' + (x - 6) + ',' + y + 'H' + (x + 6) + 'M' + x + ',' + (y - 6) + 'V' + (y + 6), stroke: col, 'stroke-width': 1.4, fill: 'none'}, g, nm, false);
  };
  for (const p of eClean) cross(p, '#555', 'clean-point');
  for (const p of ePolluted) cross(p, '#bbb', 'polluted-point');
  const fit = (f, col, nm) => el('line', {x1: P.sx(f[0]), y1: P.sy(f[3] + f[2] * f[0]), x2: P.sx(f[1]), y2: P.sy(f[3] + f[2] * f[1]), stroke: col, 'stroke-width': 6, 'stroke-linecap': 'round'}, g, nm, false);
  fit(fitPolluted, '#ff0000', 'polluted-fit-line');
  fit(fitClean, '#0000ff', 'clean-fit-line');
  const sq = (p, col, nm) => el('rect', {x: P.sx(p[0]) - 11, y: P.sy(p[1]) - 11, width: 22, height: 22, fill: col, stroke: '#000', 'stroke-width': 1.8}, P.g, nm, false);
  sq(ooaBB_vk, '#ee33cc', 'ooa-bb-marker');
  sq(moOOA_vk, '#800080', 'mo-ooa-marker');
  frame(P, 'panel-e');
  xTicks(P, vkTicks, vkTicks.map(v => v.toFixed(1)), 0.25, 'panel-e');
  yTicks(P, vkTicks, vkTicks.map(v => v.toFixed(1)), 0.25, 'panel-e');
  text(1165, 563, 'Alcohol/peroxide (slope = 0)', 17.5, 'start', P.g, 'alcohol-label');
  text(1543, 598, '+ Polluted period', 20.5, 'end', P.g, 'legend-polluted', {fill: '#bbb', 'font-weight': 'bold'});
  text(1543, 625, 'Slope = −0.60', 20.5, 'end', P.g, 'slope-polluted', {fill: '#ff0000', 'font-weight': 'bold'});
  text(1543, 651, '+ Clean period', 20.5, 'end', P.g, 'legend-clean', {fill: '#444', 'font-weight': 'bold'});
  text(1543, 678, 'Slope = −0.64', 20.5, 'end', P.g, 'slope-clean', {fill: '#0000ff', 'font-weight': 'bold'});
  text(1548, 711, 'Carboxylic acid', 17.5, 'end', P.g, 'carboxylic-frag-label');
  text(1548, 735, 'with fragmentation', 17.5, 'end', P.g, 'carboxylic-frag-label');
  text(1548, 758, '(slope = −0.5)', 17.5, 'end', P.g, 'carboxylic-frag-label');
  text(1233, 807, 'Ketone/aldehyde', 17.5, 'middle', P.g, 'ketone-label');
  text(1233, 831, '(slope = −2)', 17.5, 'middle', P.g, 'ketone-label');
  text(1438, 878, 'Carboxylic acid', 17.5, 'middle', P.g, 'carboxylic-label');
  text(1438, 902, '(slope = −1)', 17.5, 'middle', P.g, 'carboxylic-label');
  el('rect', {x: 1168, y: 864, width: 18, height: 18, fill: '#ee33cc', stroke: '#000', 'stroke-width': 1.5}, P.g, 'legend-ooa-bb-swatch', false);
  el('rect', {x: 1168, y: 894, width: 18, height: 18, fill: '#800080', stroke: '#000', 'stroke-width': 1.5}, P.g, 'legend-mo-ooa-swatch', false);
  text(1197, 881, 'OOA-BB', 20.5, 'start', P.g, 'legend-ooa-bb-label', {fill: '#ee33cc'});
  text(1197, 911, 'MO-OOA', 20.5, 'start', P.g, 'legend-mo-ooa-label', {fill: '#800080'});
  text(1546, 914, '(e)', 23, 'end', P.g, 'panel-letter');
  text(1355, 999, 'O/C', 23, 'middle', P.g, 'x-axis-title');
  text(1100, 727, 'H/C', 23, 'middle', P.g, 'y-axis-title', {transform: 'rotate(-90 1100 727)'});
})();
</script>
</body></html>
